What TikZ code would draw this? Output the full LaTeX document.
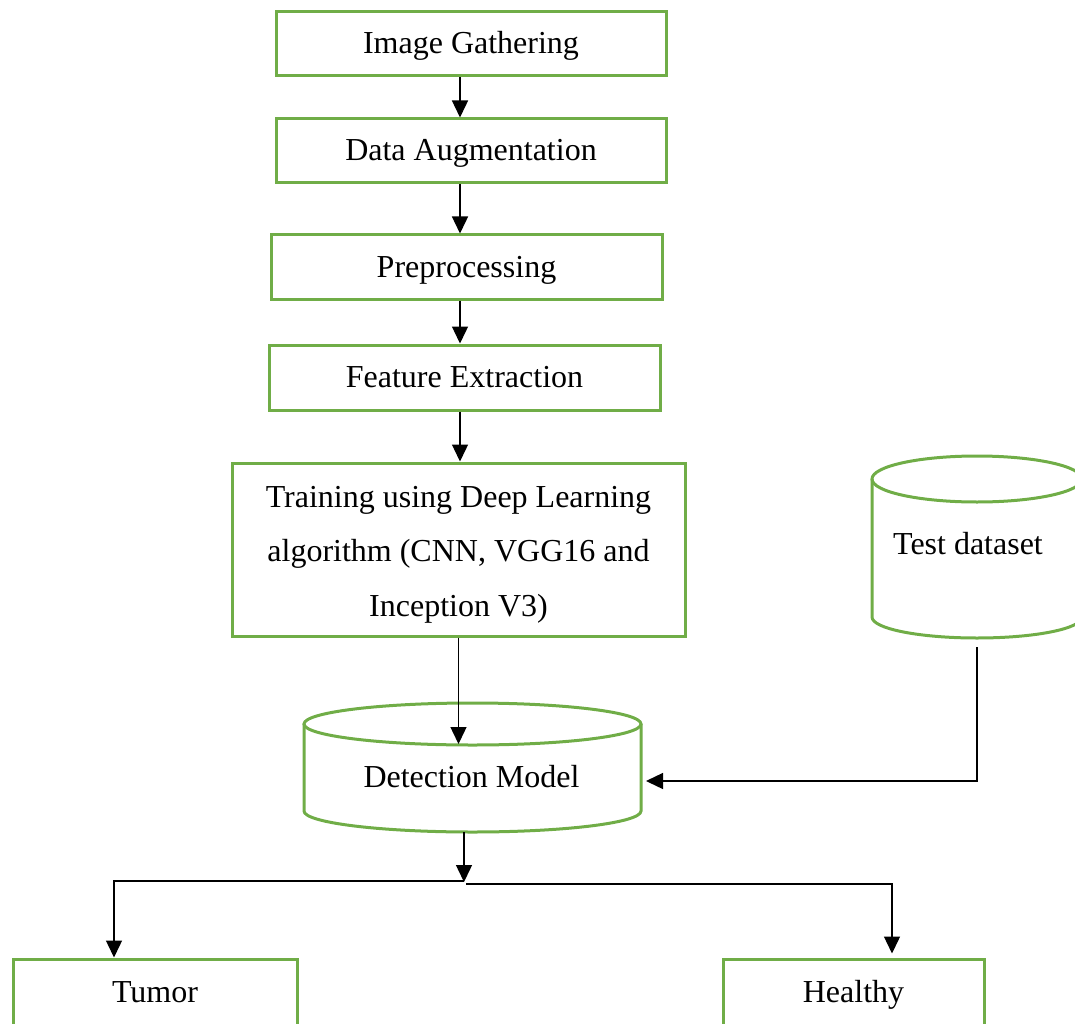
\documentclass[tikz,border=0pt]{standalone}
\usepackage{fontspec}
\setmainfont{Liberation Serif}
\usetikzlibrary{arrows.meta}
\definecolor{boxgreen}{HTML}{70AD47}
\begin{document}
\begin{tikzpicture}[x=1pt,y=-1pt,
  basebox/.style={draw=boxgreen, line width=3pt, inner sep=0pt,
    font=\fontsize{32}{38}\selectfont},
  stepbox/.style={basebox, text height=22pt, text depth=2pt},
  lbl/.style={inner sep=0pt, anchor=base, font=\fontsize{32}{38}\selectfont},
  arr/.style={draw=black, line width=1.4pt, -{Triangle[length=17pt,width=16pt]}},
  db/.style={draw=boxgreen, line width=3pt}]
\useasboundingbox (0,0) rectangle (1075,1024);
\clip (0,0) rectangle (1075,1024);

% pipeline boxes
\node[stepbox, minimum width=390pt, minimum height=64pt] (gather) at (471,44) {Image Gathering};
\node[stepbox, minimum width=390pt, minimum height=64pt] (aug) at (471,151) {Data Augmentation};
\node[stepbox, minimum width=391pt, minimum height=64pt] (prep) at (466.5,267) {Preprocessing};
\node[stepbox, minimum width=391pt, minimum height=65pt] (feat) at (464.5,377.5) {Feature Extraction};
\node[basebox, minimum width=453pt, minimum height=173pt, align=center,
  font=\fontsize{32}{54.5}\selectfont] (train) at (458.5,549.5)
  {\rule{0pt}{31pt}Training using Deep Learning\\algorithm (CNN, VGG16 and\\Inception V3)};

% detection model cylinder
\draw[db] (304,724) -- (304,811)
  arc[start angle=180, end angle=360, x radius=168.5pt, y radius=21pt] -- (641,724);
\draw[db] (472.5,724) ellipse [x radius=168.5pt, y radius=21pt];
\node[lbl] (det) at (471.5,787) {Detection Model};

% test dataset cylinder
\draw[db] (872,479) -- (872,617)
  arc[start angle=180, end angle=360, x radius=105pt, y radius=21pt] -- (1082,479);
\draw[db] (977,479) ellipse [x radius=105pt, y radius=23pt];
\node[lbl] (test) at (968,554) {Test dataset};

% outcome boxes
\node[stepbox, minimum width=284pt, minimum height=66pt] (tumor) at (155,992) {Tumor};
\node[stepbox, minimum width=261pt, minimum height=66pt] (healthy) at (853.5,992) {Healthy};

% connector anchors
\coordinate (col) at (460,0);
\coordinate (detIn) at (458.5,744);
\coordinate (detSide) at (646,781);
\coordinate (detOut) at (464,832);
\coordinate (split) at (464,882);
\coordinate (splitL) at (464,881);
\coordinate (splitR) at (466,884);
\coordinate (testOut) at (977,647);
\coordinate (tcol) at (114,0);
\coordinate (hcol) at (892,0);

% connectors
\draw[arr] (gather.south -| col) -- (aug.north -| col);
\draw[arr] (aug.south -| col) -- (prep.north -| col);
\draw[arr] (prep.south -| col) -- (feat.north -| col);
\draw[arr] (feat.south -| col) -- (train.north -| col);
\draw[arr] (train.south) -- (detIn);
\draw[arr] (testOut) |- (detSide);
\draw[arr] (detOut) -- (split);
\draw[arr] (splitL) -| (tcol |- tumor.north);
\draw[arr, shorten >=4pt] (splitR) -| (hcol |- healthy.north);
\end{tikzpicture}
\end{document}
